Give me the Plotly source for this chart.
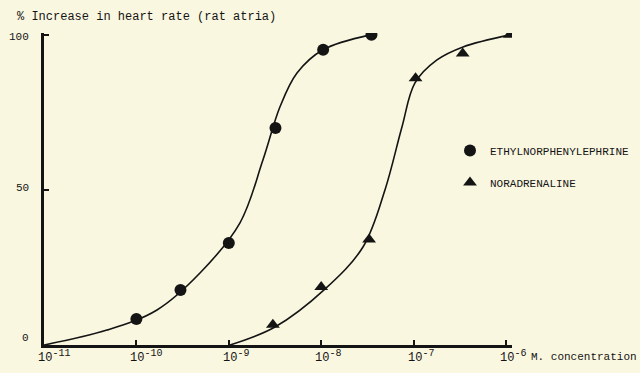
import math
import plotly.graph_objects as go

# ---- data ----
ethyl_conc = [1e-10, 3e-10, 1e-9, 3.2e-9, 1.05e-8, 3.5e-8]
ethyl_resp = [8.4, 17.7, 32.9, 70.0, 95.2, 100.0]

nora_conc = [3e-9, 1e-8, 3.3e-8, 1.05e-7, 3.4e-7, 1.1e-6]
nora_resp = [6.5, 18.7, 34.0, 86.0, 94.0, 100.0]

# fitted curves (log10 concentration, response)
ethyl_curve_log = [-11.0, -10.318, -9.777, -9.312, -8.879, -8.630, -8.446, -8.262,
                   -7.98, -7.47]
ethyl_curve_y = [0.0, 4.8, 11.3, 23.2, 39.4, 59.7, 76.8, 87.7, 95.2, 100.0]

nora_curve_log = [-8.987, -8.50, -7.96, -7.548, -7.31, -7.126, -6.985, -6.747,
                  -6.465, -5.957]
nora_curve_y = [0.0, 5.8, 18.0, 31.6, 50.0, 70.3, 84.5, 91.9, 96.1, 100.0]

x_tick_vals = [1e-11, 1e-10, 1e-9, 1e-8, 1e-7, 1e-6]
x_tick_exps = ["-11", "-10", "-9", "-8", "-7", "-6"]
y_tick_vals = [0, 50, 100]
y_tick_labels = ["0", "50", "100"]

y_title = "% Increase in heart rate (rat atria)"
x_title = "M. concentration"
series_names = ["ETHYLNORPHENYLEPHRINE", "NORADRENALINE"]

# ---- styling ----
BG = "#FAF7E1"
INK = "#141414"
FONT = "Liberation Mono"
W, H = 640, 373
ML, MR, MT, MB = 44, 128, 33, 28

fig = go.Figure()

curve_line = dict(color=INK, width=1.6, shape="spline", smoothing=1.0)
fig.add_trace(go.Scatter(
    x=[10 ** v for v in ethyl_curve_log], y=ethyl_curve_y, mode="lines",
    line=curve_line, showlegend=False, hoverinfo="skip"))
fig.add_trace(go.Scatter(
    x=[10 ** v for v in nora_curve_log], y=nora_curve_y, mode="lines",
    line=curve_line, showlegend=False, hoverinfo="skip"))

fig.add_trace(go.Scatter(
    x=ethyl_conc, y=ethyl_resp, mode="markers", name=series_names[0],
    legendgroup="a",
    marker=dict(symbol="circle", size=12, color=INK)))
fig.add_trace(go.Scatter(
    x=nora_conc, y=nora_resp, mode="markers", name=series_names[1],
    legendgroup="b",
    marker=dict(symbol="triangle-up", size=12, color=INK)))

plot_w = W - ML - MR
plot_h = H - MT - MB


def px_to_paper_x(px):
    return (px - ML) / plot_w


def px_to_paper_y(py):
    return (H - MB - py) / plot_h


annotations = []
for v, e in zip(x_tick_vals, x_tick_exps):
    annotations.append(dict(
        x=math.log10(v), xref="x", y=0, yref="paper",
        text="10<sup><span style='font-size:10px'>%s</span></sup>" % e,
        showarrow=False, xanchor="left", yanchor="top",
        xshift=-8, yshift=-1,
        font=dict(family=FONT, size=12, color=INK)))

y_shifts = [7, 2, -2]
for v, t, s in zip(y_tick_vals, y_tick_labels, y_shifts):
    annotations.append(dict(
        x=0, xref="paper", y=v, yref="y", text=t, showarrow=False,
        xanchor="right", yanchor="middle", xshift=-13, yshift=s,
        font=dict(family=FONT, size=11, color=INK)))

annotations.append(dict(
    x=px_to_paper_x(15), xref="paper", y=px_to_paper_y(17), yref="paper",
    text=y_title, showarrow=False, xanchor="left", yanchor="middle",
    font=dict(family=FONT, size=12, color=INK)))
annotations.append(dict(
    x=px_to_paper_x(529), xref="paper", y=px_to_paper_y(357), yref="paper",
    text=x_title, showarrow=False, xanchor="left", yanchor="middle",
    font=dict(family=FONT, size=11, color=INK)))

fig.update_layout(
    width=W, height=H,
    margin=dict(l=ML, r=MR, t=MT, b=MB, autoexpand=False),
    paper_bgcolor=BG, plot_bgcolor=BG,
    annotations=annotations,
    legend=dict(
        x=px_to_paper_x(450), y=px_to_paper_y(136),
        xanchor="left", yanchor="top",
        bgcolor="rgba(0,0,0,0)", borderwidth=0,
        font=dict(family=FONT, size=11, color=INK),
        tracegroupgap=13, itemwidth=30),
    xaxis=dict(
        type="log", range=[-11, -5.935],
        showgrid=False, zeroline=False,
        showline=True, linecolor=INK, linewidth=2.5,
        tickvals=x_tick_vals, ticks="inside", ticklen=5, tickwidth=1.5,
        tickcolor=INK, showticklabels=False),
    yaxis=dict(
        range=[0, 100.6],
        showgrid=False, zeroline=False,
        showline=True, linecolor=INK, linewidth=2.5,
        tickvals=y_tick_vals, ticks="inside", ticklen=5, tickwidth=2,
        tickcolor=INK, showticklabels=False),
)

fig.write_html(
    "out.html",
    config={"displayModeBar": False},
    post_script="document.body.style.margin='0';document.body.style.background='%s';" % BG,
)
